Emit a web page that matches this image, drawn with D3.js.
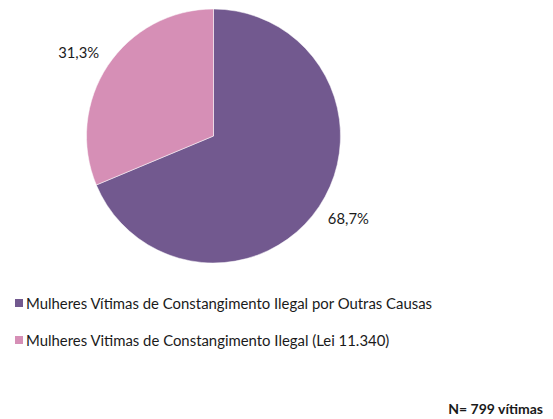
<!DOCTYPE html>
<html>
<head>
<meta charset="utf-8">
<script src="https://cdn.jsdelivr.net/npm/d3@7"></script>
<style>
  body { margin: 0; background: #fff; }
  text { font-family: Lato, "Open Sans", sans-serif; fill: #1a1a1a; }
</style>
</head>
<body>
<div class="chart"></div>
<script>
// chart data
var categories = ["Mulheres Vítimas de Constangimento Ilegal por Outras Causas",
                  "Mulheres Vitimas de Constangimento Ilegal (Lei 11.340)"];
var values = [68.7, 31.3];
var valueLabels = ["68,7%", "31,3%"];
var colors = ["#72598f", "#d68fb6"];
var note = "N= 799 vítimas";

var width = 553,
    height = 419,
    cx = 213.5,
    cy = 136,
    radius = 127;

var svg = d3.select(".chart").append("svg")
  .attr("width", width)
  .attr("height", height);

var pie = d3.pie().sort(null).value(d => d);
var arcs = pie(values);

var arc = d3.arc().innerRadius(0).outerRadius(radius);
var labelArc = d3.arc().innerRadius(150).outerRadius(150);

var g = svg.append("g")
  .attr("transform", `translate(${cx}, ${cy})`);

g.selectAll("path")
  .data(arcs)
  .enter().append("path")
  .attr("d", arc)
  .attr("fill", (d, i) => colors[i])
  .attr("stroke", "#fff")
  .attr("stroke-width", 0.5);

g.selectAll("text.lbl")
  .data(arcs)
  .enter().append("text")
  .attr("class", "lbl")
  .attr("x", d => {
    let c = labelArc.centroid(d);
    return c[0] + (c[0] > 0 ? 10 : -10);
  })
  .attr("y", d => labelArc.centroid(d)[1] + 5)
  .attr("text-anchor", "middle")
  .style("font-size", "14.8px")
  .text((d, i) => valueLabels[i]);

// legend
var legend = svg.append("g")
  .attr("transform", "translate(15, 299)");

var item = legend.selectAll("g")
  .data(categories)
  .enter().append("g")
  .attr("transform", (d, i) => `translate(0, ${i * 37})`);

item.append("rect")
  .attr("width", 8)
  .attr("height", 8)
  .attr("fill", (d, i) => colors[i]);

item.append("text")
  .attr("x", 11)
  .attr("y", 9.5)
  .style("font-size", "14.9px")
  .text(d => d);

svg.append("text")
  .attr("x", 543)
  .attr("y", 414)
  .attr("text-anchor", "end")
  .style("font-size", "14px")
  .style("font-weight", "bold")
  .text(note);
</script>
</body>
</html>
